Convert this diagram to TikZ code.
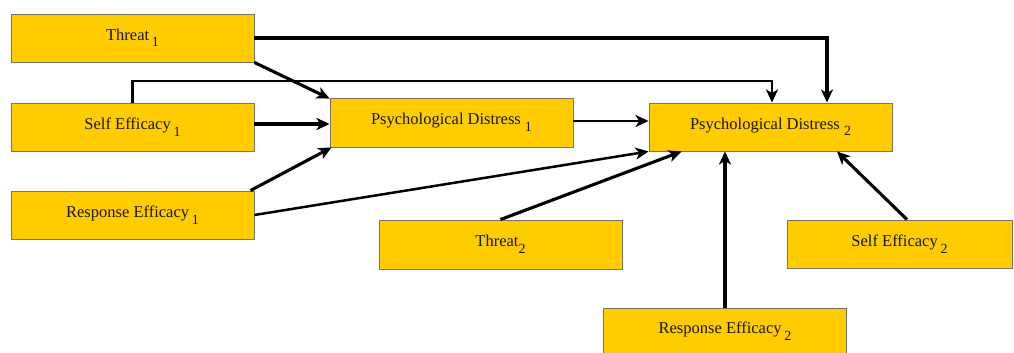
\documentclass[tikz,border=0pt]{standalone}
\usepackage{fontspec}
\setmainfont{Liberation Serif}
\usetikzlibrary{arrows.meta}
\definecolor{boxfill}{HTML}{FFCC00}
\definecolor{boxline}{HTML}{7A7360}
\definecolor{txt}{HTML}{1A1608}
\newcommand{\subidx}[1]{\raisebox{-6.5pt}{\fontsize{14}{15}\selectfont #1}}
\begin{document}
\begin{tikzpicture}[x=1pt,y=-1pt,
  box/.style={draw=boxline,line width=0.9pt,fill=boxfill,rectangle,minimum width=243pt,minimum height=48pt,inner sep=0pt,text=txt,font=\fontsize{16.5}{18}\selectfont},
  arr/.style={line width=3.1pt,-{Stealth[length=13pt,width=12pt,inset=3.5pt]}},
  thinarr/.style={arr,line width=2.5pt}]
\useasboundingbox (0,0) rectangle (1014,353);
\fill[white] (0,0) rectangle (1014,353);
\node[box] (T1) at (132.5,38) {Threat\,\subidx{1}};
\node[box] (SE1) at (132.5,127) {Self Efficacy\,\subidx{1}};
\node[box] (RE1) at (132.5,215) {Response Efficacy\,\subidx{1}};
\node[box,minimum height=49pt] (PD1) at (451.5,122.5) {Psychological Distress \subidx{1}};
\node[box] (PD2) at (770.5,127) {Psychological Distress \subidx{2}};
\node[box,minimum height=49pt] (T2) at (500.5,244.5) {Threat\subidx{2}};
\node[box,minimum width=225pt] (SE2) at (899.5,244) {Self Efficacy\,\subidx{2}};
\node[box,minimum height=46pt] (RE2) at (725,331) {Response Efficacy\,\subidx{2}};
\coordinate (k) at (0,81);
% connectors
\draw[arr] (T1.east) -| ([xshift=56.5pt]PD2.north);
\draw[thinarr] (SE1.north) -- (SE1.north |- k) -| ([xshift=1.5pt]PD2.north);
\draw[arr] (T1.south east) -- ([yshift=-1pt]PD1.north west);
\draw[arr] ([yshift=3pt]SE1.east) -- ([yshift=3pt]SE1.east -| PD1.west);
\draw[arr] ([xshift=-4pt]RE1.north east) -- ([xshift=2pt]PD1.south west);
\draw[thinarr] (RE1.east) -- (PD2.south west);
\draw[thinarr] ([yshift=1.5pt]PD1.east) -- ([yshift=1.5pt]PD1.east -| PD2.west);
\draw[arr] (T2.north) -- ([xshift=33pt]PD2.south west);
\draw[arr] (RE2.north) -- (RE2.north |- PD2.south);
\draw[arr] ([xshift=7.5pt]SE2.north) -- ([xshift=66.5pt]PD2.south);
\end{tikzpicture}
\end{document}
